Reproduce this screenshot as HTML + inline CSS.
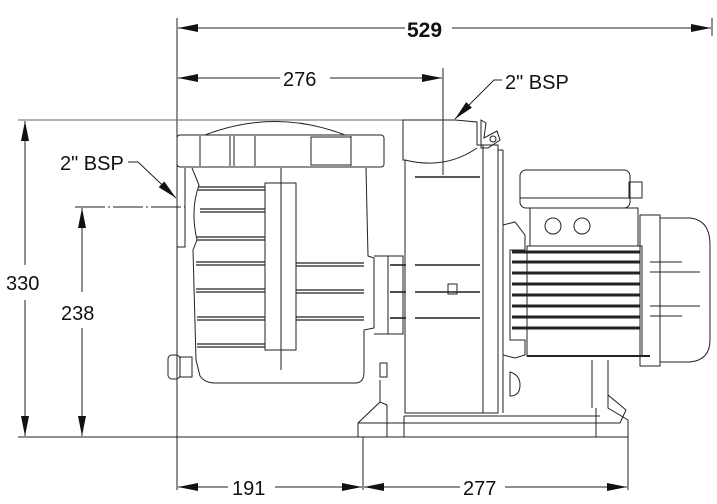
<!DOCTYPE html>
<html><head><style>
html,body{margin:0;padding:0;background:#fff;}
svg{display:block}
text{font-family:"Liberation Sans Narrow","Liberation Sans",sans-serif;fill:#111;}
</style></head><body>
<svg width="717" height="504" viewBox="0 0 717 504" xmlns="http://www.w3.org/2000/svg">
<defs>
<marker id="a" viewBox="0 0 20 8" refX="20" refY="4" markerWidth="20" markerHeight="8" orient="auto-start-reverse" markerUnits="userSpaceOnUse"><path d="M0,0 L20,4 L0,8 Z" fill="#111"/></marker>
</defs>
<g stroke="#222" stroke-width="1" fill="none">
<line x1="177" y1="18" x2="177" y2="490"/>
<line x1="712" y1="18" x2="712" y2="36"/>
<line x1="443" y1="68" x2="443" y2="175"/>
<line x1="18" y1="120" x2="405" y2="120" stroke="#666"/>
<line x1="75" y1="207" x2="185" y2="207" stroke-dasharray="30,3,2,3"/>
<line x1="18" y1="437" x2="628" y2="437"/>
<line x1="363" y1="437" x2="363" y2="490"/>
<line x1="628" y1="420" x2="628" y2="490"/>
<line x1="178" y1="28" x2="405" y2="28" marker-start="url(#a)"/>
<line x1="452" y1="28" x2="711" y2="28" marker-end="url(#a)"/>
<line x1="178" y1="78" x2="280" y2="78" marker-start="url(#a)"/>
<line x1="330" y1="78" x2="442" y2="78" marker-end="url(#a)"/>
<line x1="25" y1="121" x2="25" y2="265" marker-start="url(#a)"/>
<line x1="25" y1="300" x2="25" y2="436" marker-end="url(#a)"/>
<line x1="82" y1="208" x2="82" y2="292" marker-start="url(#a)"/>
<line x1="82" y1="328" x2="82" y2="436" marker-end="url(#a)"/>
<line x1="178" y1="487" x2="228" y2="487" marker-start="url(#a)"/>
<line x1="275" y1="487" x2="362" y2="487" marker-end="url(#a)"/>
<line x1="364" y1="487" x2="460" y2="487" marker-start="url(#a)"/>
<line x1="505" y1="487" x2="627" y2="487" marker-end="url(#a)"/>
<polyline points="128,162 138,162 176,198" marker-end="url(#a)"/>
<polyline points="502,80 494,80 455,119" marker-end="url(#a)"/>

<path d="M205,135 Q275,108 345,135"/>
<rect x="177" y="135" width="207" height="32" rx="3"/>
<line x1="200" y1="136" x2="200" y2="166"/><line x1="230" y1="136" x2="230" y2="166"/><line x1="234" y1="136" x2="234" y2="166"/><line x1="255" y1="136" x2="255" y2="166"/>
<rect x="311" y="137" width="40" height="28"/><line x1="351" y1="136" x2="351" y2="166"/>
<path d="M192,168 L199,185 Q190,210 197,240 L193,250 L196,360 L200,376 Q205,383 215,383 L355,383 Q364,383 364,372 L364,330 L374,328 L374,258 L368,256 L366,168"/>
<path d="M177,168 L177,247 L185,247 L185,168"/>
<line x1="281" y1="168" x2="281" y2="370"/>
<rect x="265" y="183" width="31" height="167"/>
<g stroke-width="1.3">
<line x1="198" y1="187" x2="265" y2="187"/><line x1="198" y1="190" x2="265" y2="190"/>
<line x1="200" y1="209" x2="265" y2="209"/><line x1="200" y1="212" x2="265" y2="212"/>
<line x1="197" y1="237" x2="265" y2="237"/><line x1="197" y1="240" x2="265" y2="240"/>
<line x1="196" y1="262" x2="265" y2="262"/><line x1="196" y1="265" x2="265" y2="265"/>
<line x1="196" y1="289" x2="265" y2="289"/><line x1="196" y1="292" x2="265" y2="292"/>
<line x1="197" y1="317" x2="265" y2="317"/><line x1="197" y1="320" x2="265" y2="320"/>
<line x1="197" y1="344" x2="265" y2="344"/><line x1="197" y1="347" x2="265" y2="347"/>
<line x1="296" y1="263" x2="364" y2="263"/><line x1="296" y1="266" x2="364" y2="266"/>
<line x1="296" y1="290" x2="364" y2="290"/><line x1="296" y1="293" x2="364" y2="293"/>
<line x1="296" y1="317" x2="364" y2="317"/><line x1="296" y1="320" x2="364" y2="320"/>
</g>
<rect x="168" y="355" width="12" height="24" rx="4"/>
<rect x="180" y="357" width="12" height="20"/>
<path d="M374,256 L403,256 L403,334 L374,334"/>
<line x1="388" y1="256" x2="388" y2="334"/>
<rect x="380" y="363" width="7" height="14"/>
<path d="M403,120 L455,120 L477,122 L477,145 L483,145 L483,413 L405,413 L405,160 L403,160 Z"/>
<path d="M405,160 Q445,170 477,148"/>
<line x1="443" y1="122" x2="443" y2="175" stroke-dasharray="8,3,2,3"/>
<g stroke-width="1.6">
<line x1="415" y1="177" x2="480" y2="177"/><line x1="415" y1="265" x2="480" y2="265"/><line x1="415" y1="292" x2="480" y2="292"/><line x1="415" y1="318" x2="480" y2="318"/>
<line x1="406" y1="265" x2="390" y2="265"/><line x1="406" y1="292" x2="390" y2="292"/><line x1="406" y1="318" x2="390" y2="318"/>
</g>
<rect x="448" y="284" width="9" height="10"/>
<path d="M481,120 L486,123 L484,138 L497,131 L500,140 L488,148 L481,148 Z"/>
<circle cx="493" cy="139" r="3"/>
<rect x="483" y="145" width="15" height="268"/>
<line x1="498" y1="150" x2="503" y2="150"/><line x1="503" y1="150" x2="503" y2="413"/>
<path d="M510,372 Q520,375 520,385 Q520,396 510,396 Z"/>
<path d="M503,225 L515,222 L525,235 L525,250 L510,250 L510,340 L525,340 L525,355 L515,358 L503,355 Z"/>
<rect x="520" y="170" width="110" height="38" rx="6"/>
<line x1="520" y1="198" x2="630" y2="198"/>
<rect x="629" y="182" width="13" height="16"/>
<rect x="530" y="208" width="108" height="38"/>
<circle cx="553" cy="226" r="8"/><circle cx="582" cy="226" r="8"/>
<rect x="527" y="246" width="115" height="110"/>
<g stroke-width="3">
<line x1="512" y1="252" x2="640" y2="252"/><line x1="512" y1="262" x2="640" y2="262"/><line x1="512" y1="273" x2="640" y2="273"/><line x1="512" y1="284" x2="640" y2="284"/><line x1="512" y1="295" x2="640" y2="295"/><line x1="512" y1="306" x2="640" y2="306"/><line x1="512" y1="317" x2="640" y2="317"/><line x1="512" y1="328" x2="640" y2="328"/>
</g>
<line x1="527" y1="356" x2="650" y2="356" stroke-width="2"/>
<path d="M640,215 L660,215 L660,366 L640,366 Z"/>
<path d="M660,218 L690,218 Q710,220 710,245 L710,340 Q710,360 690,362 L660,362"/>
<line x1="650" y1="262" x2="682" y2="262"/><line x1="650" y1="272" x2="700" y2="272"/><line x1="650" y1="306" x2="700" y2="306"/><line x1="650" y1="316" x2="682" y2="316"/>
<line x1="592" y1="360" x2="592" y2="408"/><line x1="608" y1="360" x2="608" y2="408"/>
<path d="M358,437 L358,423 L380,402 L380,380 M380,402 L387,405 L387,437"/>
<path d="M358,423 L620,423 L626,410 L608,395 L608,408 L628,420 L628,437"/>
<line x1="404" y1="416" x2="600" y2="416"/>
<line x1="404" y1="416" x2="404" y2="437"/><line x1="596" y1="408" x2="596" y2="437"/>
</g>
<text x="407" y="37" font-size="21" font-weight="bold">529</text>
<text x="283" y="86" font-size="20">276</text>
<text x="505" y="89" font-size="20">2" BSP</text>
<text x="60" y="170" font-size="20">2" BSP</text>
<text x="6" y="290" font-size="20">330</text>
<text x="61" y="320" font-size="20">238</text>
<text x="232" y="495" font-size="20">191</text>
<text x="463" y="495" font-size="20">277</text>
</svg>
</body></html>
